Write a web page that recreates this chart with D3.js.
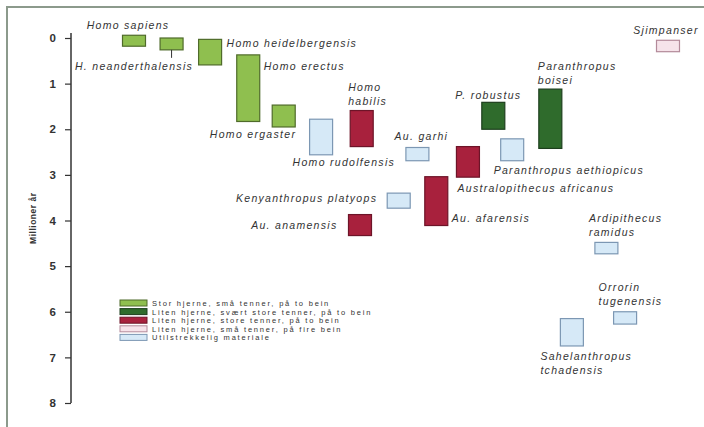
<!DOCTYPE html>
<html>
<head>
<meta charset="utf-8">
<script src="https://cdn.jsdelivr.net/npm/d3@7"></script>
<style>
  body { margin: 0; background: #fff; }
  svg { display: block; font-family: "Liberation Sans", Arial, sans-serif; }
</style>
</head>
<body>
<div id="chart"></div>
<script>
// species, oldest/youngest age (million years), column in the chart, group
const species = [
  "Homo sapiens", "H. neanderthalensis", "Homo heidelbergensis", "Homo erectus",
  "Homo ergaster", "Homo rudolfensis", "Homo habilis", "Au. garhi",
  "Australopithecus africanus", "Au. afarensis", "Kenyanthropus platyops",
  "Au. anamensis", "P. robustus", "Paranthropus boisei", "Paranthropus aethiopicus",
  "Ardipithecus ramidus", "Orrorin tugenensis", "Sahelanthropus tchadensis", "Sjimpanser"
];
const ageFrom = [-0.06, 0.0, 0.03, 0.37, 1.47, 1.78, 1.59, 2.40, 2.38, 3.04, 3.40, 3.87, 1.41, 1.12, 2.21, 4.48, 6.00, 6.15, 0.05];
const ageTo   = [0.18, 0.26, 0.59, 1.83, 1.95, 2.56, 2.38, 2.69, 3.05, 4.11, 3.73, 4.33, 2.00, 2.42, 2.69, 4.73, 6.27, 6.75, 0.30];
const column  = [0.0, 1.97, 3.99, 5.99, 7.85, 9.81, 11.94, 14.86, 17.51, 15.85, 13.88, 11.85, 18.84, 21.83, 19.83, 24.77, 25.75, 22.96, 28.0];
const group   = [0, 0, 0, 0, 0, 4, 2, 4, 2, 2, 4, 2, 1, 1, 4, 4, 4, 4, 3];

const legendLabels = [
  "Stor hjerne, små tenner, på to bein",
  "Liten hjerne, svært store tenner, på to bein",
  "Liten hjerne, store tenner, på to bein",
  "Liten hjerne, små tenner, på fire bein",
  "Utilstrekkelig materiale"
];
const yTicks = [0, 1, 2, 3, 4, 5, 6, 7, 8];
const yTitle = "Millioner år";

// styles
const fills   = ["#8fbf4f", "#2f6b2c", "#a8213d", "#f6e3ea", "#d6e9f7"];
const strokes = ["#4f6b2a", "#1d3f1d", "#6d1428", "#b38a9a", "#7c97b3"];
const barW = 23;

// label placement relative to each bar: [anchor, x reference, dx, y reference, dy, split into lines]
const labelPos = [
  ["middle", "cx", -6, "y0", -6, false],
  ["end", "x1", 10, "y1", 20, false],
  ["start", "x1", 5, "y0", 8, false],
  ["start", "x1", 4, "y0", 15, false],
  ["end", "x1", 1, "y1", 11, false],
  ["start", "x0", -17, "y1", 11, false],
  ["start", "x0", -2, "y0", -20, true],
  ["middle", "cx", 4, "y0", -8, false],
  ["start", "x0", 1, "y1", 15, false],
  ["start", "x1", 4, "y1", -4, false],
  ["end", "x0", -10, "y0", 9, false],
  ["end", "x0", -11, "y0", 14, false],
  ["middle", "cx", -5, "y0", -3, false],
  ["start", "x0", -1, "y0", -19, true],
  ["start", "x0", -7, "y1", 13, false],
  ["start", "x0", -6, "y0", -20, true],
  ["start", "x0", -15, "y0", -21, true],
  ["start", "x0", -20, "y1", 14, true],
  ["middle", "cx", -2, "y0", -6, false]
];

const width = 704, height = 427;
const svg = d3.select("#chart").append("svg")
  .attr("width", width)
  .attr("height", height);

// frame (top and left edges)
svg.append("path")
  .attr("d", `M7,${height} V7 H${width}`)
  .attr("fill", "none")
  .attr("stroke", "#8c9a8c")
  .attr("stroke-width", 2);

const yScale = d3.scaleLinear().domain([0, 8]).range([38, 403]);
const xScale = d3.scaleLinear().domain([0, 28]).range([134, 668]);

// y axis
const yAxis = svg.append("g")
  .attr("transform", "translate(71,0)")
  .call(d3.axisLeft(yScale).tickValues(yTicks).tickFormat(d3.format("d"))
    .tickSize(6).tickSizeOuter(0).tickPadding(9));
yAxis.select(".domain").attr("stroke", "#333").attr("stroke-width", 1.5)
  .attr("d", `M0,${yScale(0) - 5}V${yScale(8)}`);
yAxis.selectAll(".tick line").attr("stroke", "#333").attr("stroke-width", 1.2);
yAxis.selectAll(".tick text")
  .attr("font-size", 11.5)
  .attr("font-weight", "bold")
  .attr("fill", "#333")
  .attr("font-family", "Liberation Sans, Arial, sans-serif");

svg.append("text")
  .attr("transform", `translate(36,${yScale(3.95)}) rotate(-90)`)
  .attr("text-anchor", "middle")
  .attr("font-size", 8.5)
  .attr("font-weight", "bold")
  .attr("letter-spacing", 0.5)
  .attr("fill", "#333")
  .text(yTitle);

// bars
const bars = species.map((name, i) => {
  const cx = xScale(column[i]);
  return {
    name, i, cx,
    x0: cx - barW / 2, x1: cx + barW / 2,
    y0: yScale(ageFrom[i]), y1: yScale(ageTo[i]),
    g: group[i]
  };
});

svg.append("g").classed("bars", true)
  .selectAll("rect")
  .data(bars)
  .join("rect")
  .attr("x", d => d.x0)
  .attr("y", d => d.y0)
  .attr("width", barW)
  .attr("height", d => d.y1 - d.y0)
  .attr("fill", d => fills[d.g])
  .attr("stroke", d => strokes[d.g])
  .attr("stroke-width", 1.2);

// leader line for H. neanderthalensis
const nd = bars[1];
svg.append("line")
  .attr("x1", nd.cx).attr("x2", nd.cx)
  .attr("y1", nd.y1).attr("y2", nd.y1 + 8)
  .attr("stroke", "#333").attr("stroke-width", 1);

// labels
const labels = svg.append("g").classed("labels", true)
  .attr("font-size", 10.5)
  .attr("font-style", "italic")
  .attr("letter-spacing", 1.3)
  .attr("fill", "#333");

bars.forEach(d => {
  const [anchor, xr, dx, yr, dy, split] = labelPos[d.i];
  const t = labels.append("text")
    .attr("text-anchor", anchor)
    .attr("x", d[xr] + dx)
    .attr("y", d[yr] + dy);
  if (split) {
    const k = d.name.indexOf(" ");
    t.append("tspan").attr("x", d[xr] + dx).text(d.name.slice(0, k));
    t.append("tspan").attr("x", d[xr] + dx).attr("dy", 14).text(d.name.slice(k + 1));
  } else {
    t.text(d.name);
  }
});

// legend
const legend = svg.append("g").attr("transform", "translate(120,300)");
const rows = legend.selectAll("g")
  .data(legendLabels)
  .join("g")
  .attr("transform", (d, i) => `translate(0,${i * 8.6})`);
rows.append("rect")
  .attr("width", 27).attr("height", 6)
  .attr("fill", (d, i) => fills[i])
  .attr("stroke", (d, i) => strokes[i])
  .attr("stroke-width", 1);
rows.append("text")
  .attr("x", 32).attr("y", 6)
  .attr("font-size", 7.5)
  .attr("letter-spacing", 1.8)
  .attr("fill", "#333")
  .text(d => d);
</script>
</body>
</html>
